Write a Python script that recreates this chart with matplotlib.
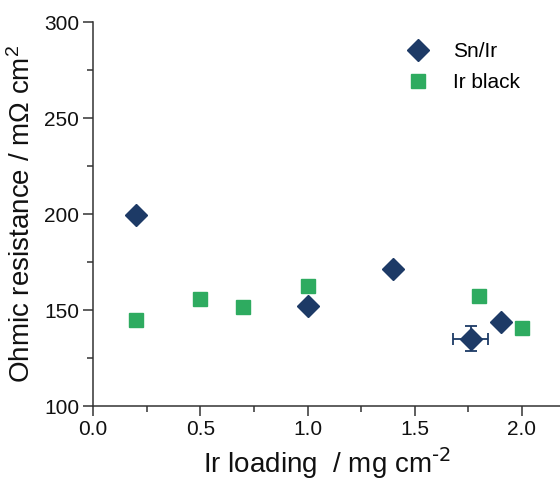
import matplotlib
matplotlib.use("Agg")
import matplotlib.pyplot as plt
from matplotlib.lines import Line2D
from matplotlib.ticker import MultipleLocator

plt.rcParams['font.family'] = ['Liberation Sans', 'DejaVu Sans']
plt.rcParams['mathtext.default'] = 'regular'
plt.rcParams['axes.unicode_minus'] = False

# Sn/Ir catalyst
snir_x = [0.2, 1.0, 1.4, 1.76, 1.9]
snir_y = [199.5, 152.0, 171.5, 135.0, 144.0]
snir_xerr = [0, 0, 0, 0.08, 0]
snir_yerr = [0, 0, 0, 6.5, 0]

# Ir black reference
irb_x = [0.2, 0.5, 0.7, 1.0, 1.8, 2.0]
irb_y = [145.0, 155.5, 151.5, 162.5, 157.5, 140.5]

navy = "#1d3a66"
green = "#2eab60"

fig = plt.figure(figsize=(5.6, 4.82), dpi=100)
ax = fig.add_axes([93/560, 76/482, 467/560, 384/482])

ax.errorbar(snir_x, snir_y, xerr=snir_xerr, yerr=snir_yerr, fmt='D', color=navy,
            ms=11, capsize=4, elinewidth=1.3, capthick=1.3, zorder=3)
ax.plot(irb_x, irb_y, 's', color=green, ms=10, zorder=3)

ax.set_xlim(0, 467/214.5)
ax.set_ylim(100, 300)
ax.xaxis.set_minor_locator(MultipleLocator(0.25))
ax.yaxis.set_major_locator(MultipleLocator(50))
ax.yaxis.set_minor_locator(MultipleLocator(25))
ax.set_xticks([0, 0.5, 1.0, 1.5, 2.0])
ax.set_xticklabels(['0.0', '0.5', '1.0', '1.5', '2.0'])

for s in ['top', 'right']:
    ax.spines[s].set_visible(False)
for s in ['left', 'bottom']:
    ax.spines[s].set_linewidth(1.1)
    ax.spines[s].set_color('#333333')

ax.tick_params(which='major', direction='out', length=7, width=1.1, labelsize=15, pad=3, colors='#333333')
ax.tick_params(which='minor', direction='out', length=4, width=1.1, colors='#333333')
ax.tick_params(labelcolor='#111111')

ax.set_xlabel('Ir loading  / mg cm$^{\\text{-2}}$', fontsize=20, labelpad=5, color='#111111')
ax.set_ylabel('Ohmic resistance / m\u03a9 cm$^{2}$', fontsize=20, labelpad=6, color='#111111')

handles = [Line2D([], [], ls='none', marker='D', color=navy, ms=11),
           Line2D([], [], ls='none', marker='s', color=green, ms=10)]
ax.legend(handles, ['Sn/Ir', 'Ir black'], loc='upper left', bbox_to_anchor=(0.645, 0.97),
          frameon=False, fontsize=15, handletextpad=0.9, labelspacing=0.6, borderaxespad=0,
          handlelength=1.5)

fig.savefig('out.png', dpi=100)
